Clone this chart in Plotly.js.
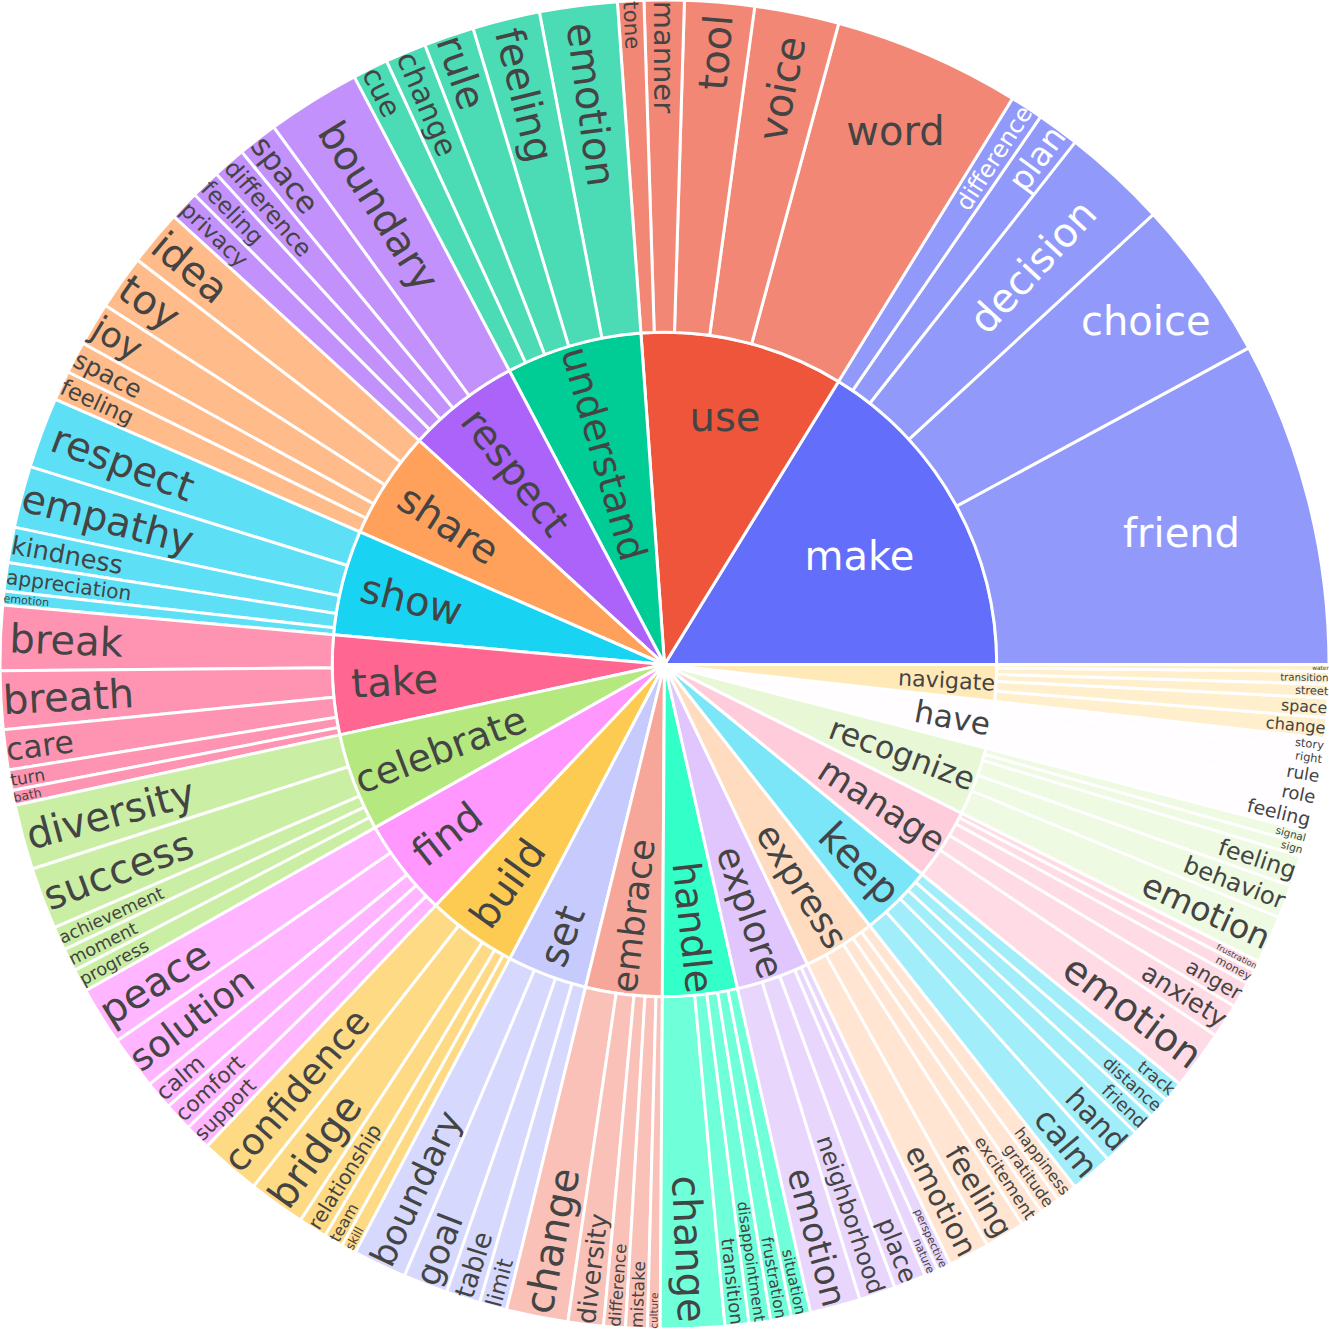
<!DOCTYPE html>
<html>
<head>
<meta charset="utf-8">
<script src="https://cdn.plot.ly/plotly-3.0.1.min.js"></script>
<style>
  body { margin: 0; background: #fff; }
  #chart { width: 1329px; height: 1329px; }
</style>
</head>
<body>
<div id="chart"></div>
<script>
// verbs (inner ring) and the nouns that go with each one (outer ring)
const verbs = ['make', 'use', 'understand', 'respect', 'share', 'show', 'take', 'celebrate',
  'find', 'build', 'set', 'embrace', 'handle', 'explore', 'express', 'keep', 'manage',
  'recognize', 'have', 'navigate'];

const verbNouns = [
  ['friend', 'choice', 'decision', 'plan', 'difference'],
  ['word', 'voice', 'tool', 'manner', 'tone'],
  ['emotion', 'feeling', 'rule', 'change', 'cue'],
  ['boundary', 'space', 'difference', 'feeling', 'privacy'],
  ['idea', 'toy', 'joy', 'space', 'feeling'],
  ['respect', 'empathy', 'kindness', 'appreciation', 'emotion'],
  ['break', 'breath', 'care', 'turn', 'bath'],
  ['diversity', 'success', 'achievement', 'moment', 'progress'],
  ['peace', 'solution', 'calm', 'comfort', 'support'],
  ['confidence', 'bridge', 'relationship', 'team', 'skill'],
  ['boundary', 'goal', 'table', 'limit'],
  ['change', 'diversity', 'difference', 'mistake', 'culture'],
  ['change', 'transition', 'disappointment', 'frustration', 'situation'],
  ['emotion', 'neighborhood', 'place', 'nature', 'perspective'],
  ['emotion', 'feeling', 'excitement', 'gratitude', 'happiness'],
  ['calm', 'hand', 'friend', 'distance', 'track'],
  ['emotion', 'anxiety', 'anger', 'money', 'frustration'],
  ['emotion', 'behavior', 'feeling', 'sign', 'signal'],
  ['feeling', 'role', 'rule', 'right', 'story'],
  ['change', 'space', 'street', 'transition', 'water']
];

const nounCounts = [
  [285, 142, 92, 37, 29],
  [164, 74, 61, 35, 23],
  [68, 59, 44, 36, 31],
  [82, 35, 29, 26, 26],
  [49, 48, 38, 28, 26],
  [62, 54, 31, 25, 12],
  [57, 51, 35, 18, 13],
  [57, 54, 21, 20, 20],
  [51, 47, 25, 25, 23],
  [53, 50, 25, 17, 13],
  [47, 39, 30, 24],
  [54, 31, 19, 19, 11],
  [56, 21, 19, 18, 17],
  [44, 32, 28, 12, 12],
  [36, 35, 20, 18, 18],
  [37, 33, 20, 19, 18],
  [52, 30, 23, 12, 9],
  [42, 29, 27, 11, 11],
  [21, 19, 18, 12, 12],
  [18, 17, 12, 11, 6]
];

const palette = ['#636efa', '#EF553B', '#00cc96', '#ab63fa', '#FFA15A',
  '#19d3f3', '#FF6692', '#B6E880', '#FF97FF', '#FECB52'];

const ids = [], labels = [], parents = [], values = [];
verbs.forEach(function(v, i) {
  const total = nounCounts[i].reduce(function(a, b) { return a + b; }, 0);
  ids.push(v); labels.push(v); parents.push(''); values.push(total);
  verbNouns[i].forEach(function(n, j) {
    ids.push(v + '/' + n);
    labels.push(n);
    parents.push(v);
    values.push(nounCounts[i][j]);
  });
});

const trace = {
  type: 'sunburst',
  ids: ids,
  labels: labels,
  parents: parents,
  values: values,
  branchvalues: 'total',
  marker: { line: { color: '#ffffff', width: 3 } },
  textfont: { size: 40 }
};

const layout = {
  width: 1329,
  height: 1329,
  margin: { l: 0, r: 0, t: 0, b: 0 },
  font: { family: 'DejaVu Sans' },
  sunburstcolorway: palette,
  extendsunburstcolors: true,
  paper_bgcolor: '#ffffff'
};

Plotly.newPlot('chart', [trace], layout, { displayModeBar: false });
</script>
</body>
</html>
